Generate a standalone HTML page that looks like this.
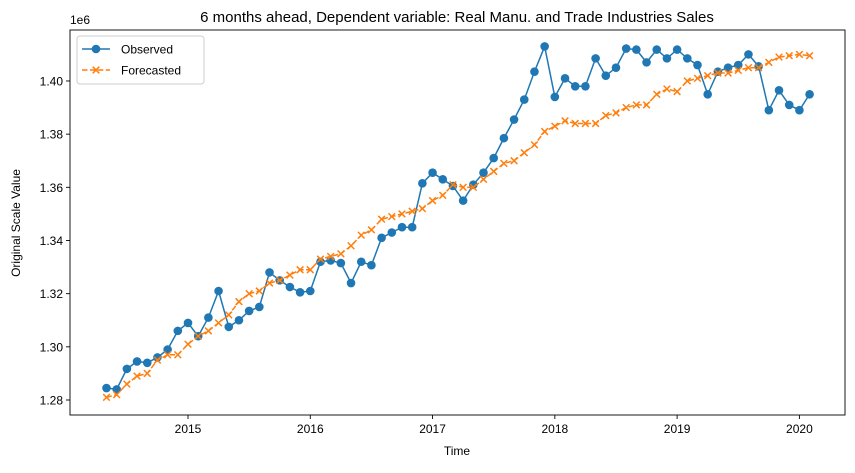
<!DOCTYPE html>
<html><head><meta charset="utf-8"><style>
body{margin:0;background:#fff;font-family:"Liberation Sans","DejaVu Sans",sans-serif}
</style></head><body>
<svg id="chart" width="855" height="468" xmlns="http://www.w3.org/2000/svg" font-family="Liberation Sans, DejaVu Sans, sans-serif"></svg>
<script>
const yearTicks = [2015, 2016, 2017, 2018, 2019, 2020];
const yTicks = [1.28, 1.30, 1.32, 1.34, 1.36, 1.38, 1.40];
const observed = [1.2845,1.284,1.2917,1.2945,1.294,1.296,1.299,1.306,
1.309,1.304,1.311,1.321,1.3075,1.310,1.3135,1.315,1.328,1.325,1.3225,1.3205,
1.321,1.332,1.3325,1.3315,1.324,1.332,1.3307,1.341,1.343,1.345,1.345,1.3615,
1.3655,1.363,1.3605,1.355,1.361,1.3655,1.371,1.3785,1.3855,1.393,1.4035,1.413,
1.394,1.401,1.398,1.398,1.4085,1.402,1.405,1.4122,1.4118,1.407,1.4118,1.4085,
1.4118,1.4085,1.406,1.395,1.4035,1.405,1.406,1.41,1.4055,1.389,1.3965,1.391,
1.389,1.395];
const forecasted = [1.281,1.282,1.286,1.289,1.290,1.295,1.297,1.297,
1.301,1.304,1.306,1.309,1.312,1.317,1.320,1.321,1.324,1.325,1.327,1.329,
1.329,1.333,1.334,1.335,1.338,1.342,1.344,1.348,1.349,1.350,1.351,1.352,
1.355,1.357,1.361,1.360,1.360,1.363,1.366,1.369,1.370,1.373,1.376,1.381,
1.383,1.385,1.384,1.384,1.384,1.387,1.388,1.390,1.391,1.391,1.395,1.397,
1.396,1.400,1.401,1.402,1.403,1.403,1.404,1.405,1.405,1.407,1.409,1.4095,
1.410,1.4095];
const startMonthOffset = -8; // first point is 2014-05, 8 months before 2015-01

const svg = document.getElementById('chart');
const NS = 'http://www.w3.org/2000/svg';
const L=70,R=845,T=30,B=415;
function xMonth(i){return 188 + (i + startMonthOffset) * 10.19;}
function xYear(yr){return 188 + (yr-2015)*12*10.19;}
function yv(v){return 400 - (v-1.28)/0.02*53.17;}
function mk(tag, attrs, parent){const e=document.createElementNS(NS,tag);for(const k in attrs)e.setAttribute(k,attrs[k]);(parent||svg).appendChild(e);return e;}

mk('rect',{x:0,y:0,width:855,height:468,fill:'#fff'});
const title = mk('text',{x:457,y:22,'text-anchor':'middle','font-size':15});
title.textContent='6 months ahead, Dependent variable: Real Manu. and Trade Industries Sales';



const xa = mk('g',{});


yearTicks.forEach(yr=>{
  const x=xYear(yr);
  mk('line',{x1:x,x2:x,y1:B,y2:B+4,stroke:'#000','stroke-width':0.9},xa);
  const t=mk('text',{x:x,y:B+18,'text-anchor':'middle','font-size':12},xa);
  t.textContent=yr;
  
  
});
const ya = mk('g',{});


yTicks.forEach(v=>{
  const y=yv(v);
  mk('line',{x1:L-4,x2:L,y1:y,y2:y,stroke:'#000','stroke-width':0.9},ya);
  const t=mk('text',{x:L-7,y:y+4.5,'text-anchor':'end','font-size':12},ya);
  t.textContent=v.toFixed(2);
  
  
});
const off=mk('text',{x:70,y:24,'font-size':12});off.textContent='1e6';


const xl=mk('text',{x:457,y:455,'text-anchor':'middle','font-size':12});xl.textContent='Time';


const yl=mk('text',{x:0,y:0,'text-anchor':'middle','font-size':12,transform:'translate(20,223) rotate(-90)'});yl.textContent='Original Scale Value';



// observed
const og=mk('g',{});


mk('polyline',{points:observed.map((v,i)=>xMonth(i)+','+yv(v)).join(' '),fill:'none',stroke:'#1f77b4','stroke-width':1.5},og);
observed.forEach((v,i)=>{
  const c=mk('circle',{cx:xMonth(i),cy:yv(v),r:4.3,fill:'#1f77b4'},og);
  
  
});
// forecasted
const fg=mk('g',{});


mk('polyline',{points:forecasted.map((v,i)=>xMonth(i)+','+yv(v)).join(' '),fill:'none',stroke:'#ff7f0e','stroke-width':1.5,'stroke-dasharray':'5.5,2.4'},fg);
forecasted.forEach((v,i)=>{
  const x=xMonth(i),y=yv(v),s=3.3;
  const p=mk('path',{d:`M${x-s},${y-s}L${x+s},${y+s}M${x-s},${y+s}L${x+s},${y-s}`,stroke:'#ff7f0e','stroke-width':1.5},fg);
  
  
});

mk('rect',{x:L,y:T,width:R-L,height:B-T,fill:'none',stroke:'#000','stroke-width':0.9});

// legend
const lg=mk('g',{});


mk('rect',{x:77,y:36,width:127,height:48,rx:3,fill:'#fff',stroke:'#ccc','stroke-width':1},lg);
mk('line',{x1:82,x2:110,y1:49,y2:49,stroke:'#1f77b4','stroke-width':1.5},lg);
mk('circle',{cx:96,cy:49,r:4.3,fill:'#1f77b4'},lg);
const t1=mk('text',{x:121,y:53.5,'font-size':12},lg);t1.textContent='Observed';


mk('line',{x1:82,x2:110,y1:70,y2:70,stroke:'#ff7f0e','stroke-width':1.5,'stroke-dasharray':'5.5,2.4'},lg);
mk('path',{d:'M92.7,66.7L99.3,73.3M92.7,73.3L99.3,66.7',stroke:'#ff7f0e','stroke-width':1.5},lg);
const t2=mk('text',{x:121,y:74.5,'font-size':12},lg);t2.textContent='Forecasted';


</script>
</body></html>
